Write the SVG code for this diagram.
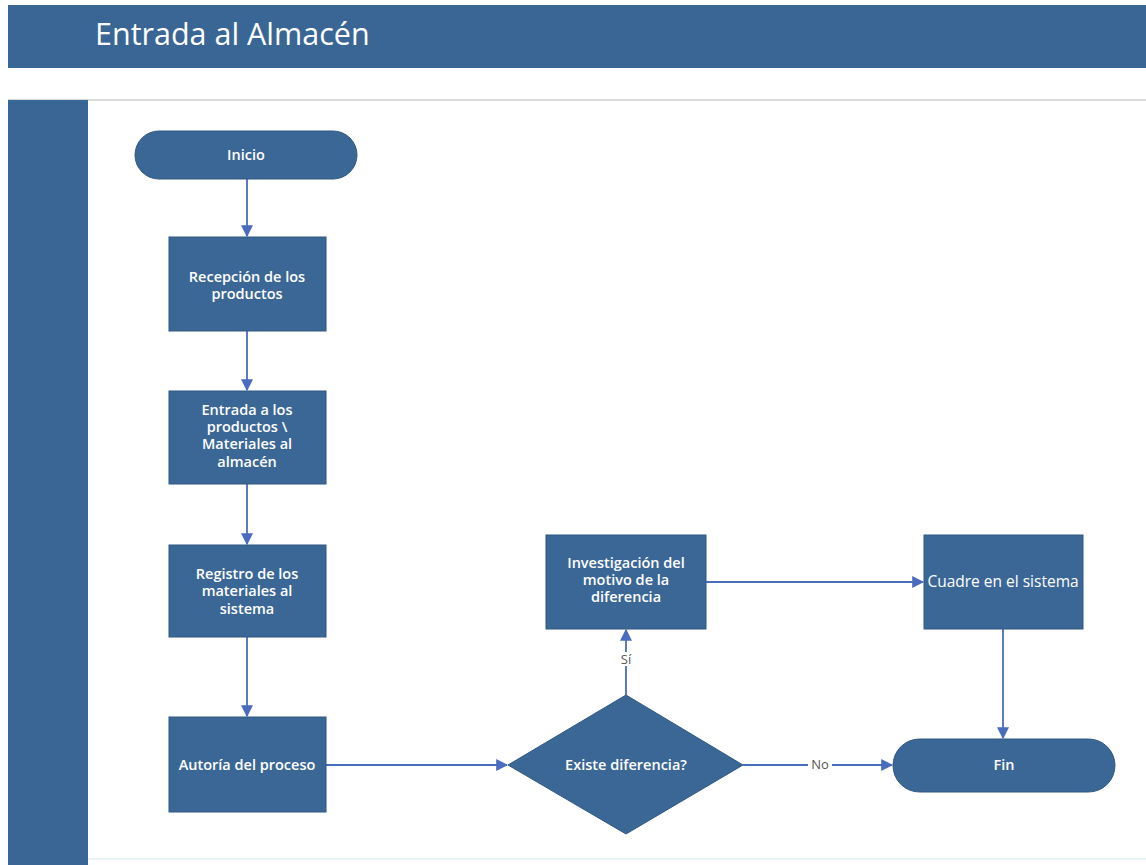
<svg xmlns="http://www.w3.org/2000/svg" width="1146" height="865" viewBox="0 0 1146 865">
  <style>
    .shape { fill: #3b6796; stroke: #2f5983; stroke-width: 1; }
    .label { fill: #ffffff; font-family: "Open Sans", "Liberation Sans", sans-serif; font-size: 14.5px; font-weight: 600; text-anchor: middle; }
    .edge { stroke: #4a6cbf; stroke-width: 1.8; fill: none; }
    .edge-label { fill: #555; font-family: "Open Sans", "Liberation Sans", sans-serif; font-size: 13px; text-anchor: middle; }
  </style>
  <defs>
    <marker id="arrow" viewBox="0 0 10 10" refX="9" refY="5" markerWidth="12" markerHeight="12" markerUnits="userSpaceOnUse" orient="auto">
      <path d="M0,0 L10,5 L0,10 z" fill="#4a6cbf"/>
    </marker>
  </defs>

  <rect x="0" y="0" width="1146" height="865" fill="#ffffff"/>

  <!-- title bar -->
  <g id="header">
    <rect x="8" y="5" width="1138" height="63" fill="#3a6695"/>
    <text x="95" y="45" fill="#ffffff" font-family="Open Sans, Liberation Sans, sans-serif" font-size="30.5">Entrada al Almacén</text>
    <line x1="8" y1="100" x2="1146" y2="100" stroke="#cfcfcf" stroke-width="1.5"/>
  </g>

  <!-- swimlane header column -->
  <g id="lane">
    <rect x="8" y="100" width="80" height="765" fill="#3a6695"/>
    <line x1="88" y1="859" x2="1146" y2="859" stroke="#e2eef2" stroke-width="1.5"/>
  </g>

  <!-- connectors -->
  <g id="connectors">
    <line class="edge" x1="247" y1="179" x2="247" y2="236" marker-end="url(#arrow)"/>
    <line class="edge" x1="247" y1="331" x2="247" y2="390" marker-end="url(#arrow)"/>
    <line class="edge" x1="247" y1="484" x2="247" y2="544" marker-end="url(#arrow)"/>
    <line class="edge" x1="247" y1="637" x2="247" y2="716" marker-end="url(#arrow)"/>
    <line class="edge" x1="326" y1="765" x2="507" y2="765" marker-end="url(#arrow)"/>
    <line class="edge" x1="626" y1="695" x2="626" y2="630" marker-end="url(#arrow)"/>
    <line class="edge" x1="706" y1="582" x2="923" y2="582" marker-end="url(#arrow)"/>
    <line class="edge" x1="1003" y1="629" x2="1003" y2="738" marker-end="url(#arrow)"/>
    <line class="edge" x1="743" y1="765" x2="892" y2="765" marker-end="url(#arrow)"/>
    <rect x="618" y="652" width="16" height="14" fill="#ffffff"/>
    <text class="edge-label" x="626" y="664">Sí</text>
    <rect x="808" y="758" width="24" height="14" fill="#ffffff"/>
    <text class="edge-label" x="820" y="769">No</text>
  </g>

  <g id="inicio">
    <rect class="shape" x="135" y="131" width="222" height="48" rx="24" ry="24"/>
    <text class="label" x="246" y="160">Inicio</text>
  </g>

  <g id="recepcion">
    <rect class="shape" x="169" y="237" width="157" height="94"/>
    <text class="label" x="247" y="282">Recepción de los</text>
    <text class="label" x="247" y="299">productos</text>
  </g>

  <g id="entrada">
    <rect class="shape" x="169" y="391" width="157" height="93"/>
    <text class="label" x="247" y="415">Entrada a los</text>
    <text class="label" x="247" y="432">productos \</text>
    <text class="label" x="247" y="449">Materiales al</text>
    <text class="label" x="247" y="467">almacén</text>
  </g>

  <g id="registro">
    <rect class="shape" x="169" y="545" width="157" height="92"/>
    <text class="label" x="247" y="579">Registro de los</text>
    <text class="label" x="247" y="596">materiales al</text>
    <text class="label" x="247" y="614">sistema</text>
  </g>

  <g id="autoria">
    <rect class="shape" x="169" y="717" width="157" height="95"/>
    <text class="label" x="247" y="770">Autoría del proceso</text>
  </g>

  <g id="decision">
    <polygon class="shape" points="626,695 743,765 626,834 508,765"/>
    <text class="label" x="626" y="770">Existe diferencia?</text>
  </g>

  <g id="investigacion">
    <rect class="shape" x="546" y="535" width="160" height="94"/>
    <text class="label" x="626" y="568">Investigación del</text>
    <text class="label" x="626" y="585">motivo de la</text>
    <text class="label" x="626" y="602">diferencia</text>
  </g>

  <g id="cuadre">
    <rect class="shape" x="924" y="535" width="159" height="94"/>
    <text class="label" x="1003" y="587" style="font-weight:400;font-size:15.5px">Cuadre en el sistema</text>
  </g>

  <g id="fin">
    <rect class="shape" x="893" y="739" width="222" height="53" rx="26.5" ry="26.5"/>
    <text class="label" x="1004" y="770">Fin</text>
  </g>
</svg>
